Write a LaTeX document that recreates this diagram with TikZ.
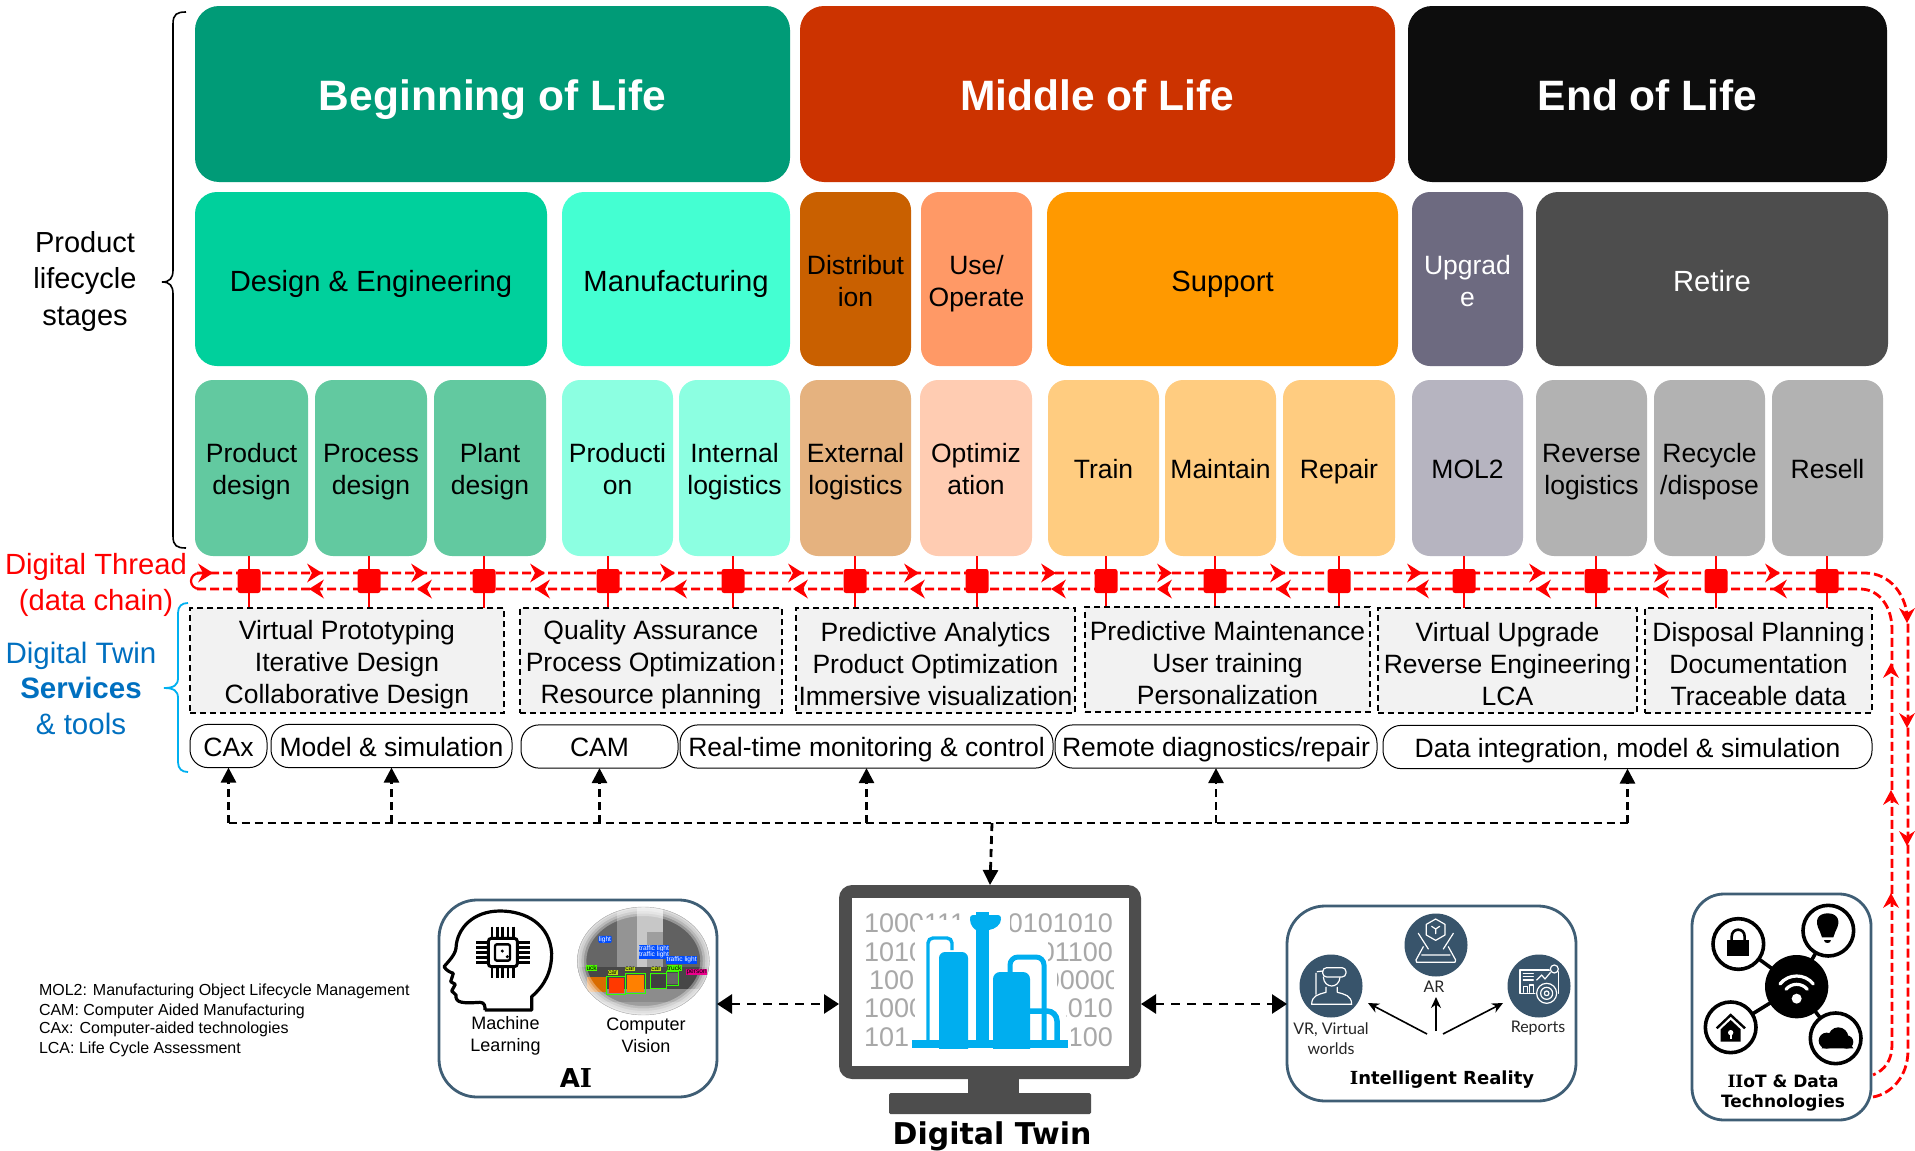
\documentclass[tikz,border=0pt]{standalone}
\usepackage{fontspec}
\setmainfont{Liberation Sans}
\newfontfamily\dvf{DejaVu Sans}
\newfontfamily\dvs{DejaVu Serif}
\newfontfamily\latof{Lato}
\usetikzlibrary{arrows.meta,calc}
\definecolor{bol}{HTML}{009B77}
\definecolor{mol}{HTML}{CC3300}
\definecolor{eol}{HTML}{0D0D0D}
\definecolor{des}{HTML}{00D09C}
\definecolor{mfg}{HTML}{44FFD2}
\definecolor{dsg}{HTML}{62C9A0}
\definecolor{mfl}{HTML}{8CFFE1}
\definecolor{dis}{HTML}{C96000}
\definecolor{use}{HTML}{FF9966}
\definecolor{sup}{HTML}{FF9900}
\definecolor{upg}{HTML}{6D6A80}
\definecolor{ret}{HTML}{4D4D4D}
\definecolor{ext}{HTML}{E5B27F}
\definecolor{opt}{HTML}{FFCCB2}
\definecolor{trn}{HTML}{FFCC80}
\definecolor{mlt}{HTML}{B6B4C0}
\definecolor{gry}{HTML}{B2B2B2}
\definecolor{dtb}{HTML}{0070C0}
\definecolor{brc}{HTML}{00B0F0}
\definecolor{slate}{HTML}{3F5E75}
\definecolor{disc}{HTML}{38546B}
\definecolor{cyanb}{HTML}{00AEEF}
\definecolor{bin}{HTML}{A8A8A8}
\definecolor{scr}{HTML}{4D4D4D}
\newcommand\bx[7]{\pgfmathsetmacro\cxx{(#2+#4)/2}\pgfmathsetmacro\cyy{(#3+#5)/2}\pgfmathsetmacro\ww{#4-#2}\pgfmathsetmacro\hh{#5-#3}\node[#6,minimum width=\ww pt,minimum height=\hh pt] (#1) at (\cxx,\cyy) {#7};}
\newcommand\redR[2]{\fill[red] (#1,#2) -- (#1-15,#2-9.5) -- (#1-10,#2) -- (#1-15,#2+9.5) -- cycle;}
\newcommand\redL[2]{\fill[red] (#1,#2) -- (#1+15,#2-9.5) -- (#1+10,#2) -- (#1+15,#2+9.5) -- cycle;}
\newcommand\redD[2]{\fill[red] (#1,#2) -- (#1-8,#2-15) -- (#1,#2-10) -- (#1+8,#2-15) -- cycle;}
\newcommand\redU[2]{\fill[red] (#1,#2) -- (#1-8,#2+15) -- (#1,#2+10) -- (#1+8,#2+15) -- cycle;}
\newcommand\slabI{{\dvs\bfseries I}}
\newcommand\vst[1]{\rule[-#1em]{0pt}{\dimexpr1.2em+#1em\relax}}
\newcommand\TT{\rule{0pt}{1.22em}}
\newcommand\TS{\rule{0pt}{1.0em}}
\tikzset{
 base/.style={inner sep=0pt,outer sep=0pt,align=center,text=black},
 fix/.style={execute at begin node={\vst{#1}}},
 top/.style={base,rounded corners=24pt,draw=none,text=white,font=\fontsize{42.5}{50}\selectfont\bfseries,fix=.42},
 mid/.style={base,rounded corners=22pt,font=\fontsize{29.2}{35}\selectfont,fix=.34},
 midn/.style={base,rounded corners=18pt,font=\fontsize{26.5}{32}\selectfont,fix=.36},
 low/.style={base,rounded corners=18pt,font=\fontsize{26.5}{32}\selectfont,fix=.42},
 svc/.style={base,fill=black!5,draw=black,line width=1.8pt,dash pattern=on 6pt off 4pt,font=\fontsize{26.5}{32}\selectfont,fix=0},
 pill/.style={base,draw=black,line width=1pt,fill=white,rounded corners=18pt,font=\fontsize{26.5}{32}\selectfont,fix=.43},
 lbl/.style={inner sep=0pt,outer sep=0pt,align=center},
 pane/.style={base,draw=slate,line width=2.8pt,fill=white},
 thr/.style={red,line width=2.8pt,dash pattern=on 9pt off 4pt},
 bus/.style={black,line width=2.8pt,dash pattern=on 8pt off 5pt},
 bush/.style={bus,-{Triangle[length=15pt,width=15pt]}},
 dbl/.style={bus,dash pattern=on 9pt off 7pt,{Triangle[length=15pt,width=19pt]}-{Triangle[length=15pt,width=19pt]}},
 sq/.style={inner sep=0pt,outer sep=0pt,minimum width=23pt,minimum height=24pt,fill=red,rounded corners=2.5pt},
 z/.style={shift={#1},x=.3333pt,y=-.3333pt},
 binr/.style={lbl,text=bin,font=\fontsize{27}{32}\selectfont},
 cvl/.style={inner sep=.5pt,outer sep=0pt,font=\fontsize{6.6}{7}\selectfont},
 ico/.style={white,line width=1.2pt,line join=round,line cap=round},
 small/.style={lbl,font=\fontsize{18}{22}\selectfont},
 irs/.style={lbl,font=\latof\fontsize{16}{20}\selectfont,text=black!85},
 dvh/.style={lbl,font=\dvf\bfseries\fontsize{18}{23}\selectfont},
}
\begin{document}
\begin{tikzpicture}[x=1pt,y=-1pt]
\useasboundingbox (0,0) rectangle (1915,1151);
\fill[white] (0,0) rectangle (1915,1151);
% Top row
\bx{bolb}{195}{6}{790}{182}{top,fill=bol}{Beginning of Life}
\bx{molb}{800}{6}{1395}{182}{top,fill=mol}{Middle of Life}
\bx{eolb}{1408}{6}{1887}{182}{top,fill=eol}{End of Life}
% Second row
\bx{r2a}{195}{192}{547}{366}{mid,fill=des}{Design \& Engineering}
\bx{r2b}{562}{192}{790}{366}{mid,fill=mfg}{Manufacturing}
\bx{r2c}{800}{192}{911}{366}{midn,fill=dis}{\TT Distribut\\ion}
\bx{r2d}{921}{192}{1032}{366}{midn,fill=use}{\TT Use/\\Operate}
\bx{r2e}{1047}{192}{1398}{366}{mid,fill=sup}{Support}
\bx{r2f}{1412}{192}{1523}{366}{midn,fill=upg,text=white}{\TT Upgrad\\e}
\bx{r2g}{1536}{192}{1888}{366}{mid,fill=ret,text=white}{Retire}
% Third row
\bx{r3a}{195}{380}{308}{556}{low,fill=dsg}{\TT Product\\design}
\bx{r3b}{315}{380}{427}{556}{low,fill=dsg}{\TT Process\\design}
\bx{r3c}{434}{380}{546}{556}{low,fill=dsg}{\TT Plant\\design}
\bx{r3d}{562}{380}{673}{556}{low,fill=mfl}{\TT Producti\\on}
\bx{r3e}{679}{380}{790}{556}{low,fill=mfl}{\TT Internal\\logistics}
\bx{r3f}{800}{380}{911}{556}{low,fill=ext}{\TT External\\logistics}
\bx{r3g}{920}{380}{1032}{556}{low,fill=opt}{\TT Optimiz\\ation}
\bx{r3h}{1048}{380}{1159}{556}{low,fill=trn}{Train}
\bx{r3i}{1165}{380}{1276}{556}{low,fill=trn}{Maintain}
\bx{r3j}{1283}{380}{1395}{556}{low,fill=trn}{Repair}
\bx{r3k}{1412}{380}{1523}{556}{low,fill=mlt}{MOL2}
\bx{r3l}{1536}{380}{1647}{556}{low,fill=gry}{\TT Reverse\\logistics}
\bx{r3m}{1654}{380}{1765}{556}{low,fill=gry}{\TT Recycle\\/dispose}
\bx{r3n}{1772}{380}{1883}{556}{low,fill=gry}{Resell}
% Left labels
\node[lbl,font=\fontsize{29}{36.5}\selectfont] (plc) at (85,281) {Product\\lifecycle\\stages};
\draw[black,line width=1.6pt] (186,12) .. controls (177,12) and (173,14) .. (173,24) -- (173,270) .. controls (173,278) and (170,282) .. (162,282) .. controls (170,282) and (173,286) .. (173,294) -- (173,536) .. controls (173,546) and (177,548) .. (186,548);
\node[lbl,text=red,font=\fontsize{29.2}{36}\selectfont] (dth) at (96,584.5) {Digital Thread\\(data chain)};
\node[lbl,text=dtb,font=\fontsize{29.5}{35.5}\selectfont] (dtw) at (81,688) {Digital Twin\\\textbf{Services}\\\& tools};
\draw[brc,line width=1.8pt] (188,603) .. controls (182,603) and (178,606) .. (178,613) -- (178,678) .. controls (178,685) and (174,688) .. (164,688) .. controls (174,688) and (178,691) .. (178,698) -- (178,762) .. controls (178,769) and (182,772) .. (188,772);
% Thread verticals
\foreach \i/\x in {1/249,2/369,3/484,4/608,5/733,6/855,7/977,8/1106,9/1215,10/1339,11/1464,12/1596,13/1716,14/1827}{
 \draw[red,line width=1.6pt] (\x,556) -- (\x,608);
}
% Thread lines
\draw[thr] (197,573) -- (1865,573) .. controls (1890,573) and (1908,595) .. (1908,625) -- (1908,1050) .. controls (1908,1078) and (1890,1094) .. (1873,1097);
\draw[thr] (197,589) -- (1860,589) .. controls (1878,589) and (1892,605) .. (1892,630) -- (1892,1045) .. controls (1892,1060) and (1885,1070) .. (1873,1075);
\draw[red,line width=2.2pt] (200,573) .. controls (188,573) and (188,589) .. (200,589);
\foreach \i/\x in {1/249,2/369,3/484,4/608,5/733,6/855,7/977,8/1106,9/1215,10/1339,11/1464,12/1596,13/1716,14/1827}{
 \node[sq] (s\i) at (\x,581) {};
}
\foreach \x in {213,322,426,545,675,803,919,1056,1172,1285,1422,1544,1669,1780}{\redR{\x}{573}}
\foreach \x in {309,417,535,672,793,910,1051,1157,1276,1414,1536,1654,1772}{\redL{\x}{589}}
\foreach \y in {623,728,846}{\redD{1907}{\y}}
\foreach \y in {663,790,893}{\redU{1891}{\y}}
% Services
\bx{sv1}{190}{608}{504}{713}{svc}{\TS Virtual Prototyping\\Iterative Design\\Collaborative Design}
\bx{sv2}{520}{608}{782}{713}{svc}{\TS Quality Assurance\\Process Optimization\\Resource planning}
\bx{sv3}{796}{608}{1075}{713}{svc}{\TS Predictive Analytics\\Product Optimization\\Immersive visualization}
\bx{sv4}{1085}{607}{1370}{712}{svc}{\TS Predictive Maintenance\\User training\\Personalization}
\bx{sv5}{1378}{608}{1637}{713}{svc}{\TS Virtual Upgrade\\Reverse Engineering\\LCA}
\bx{sv6}{1645}{608}{1872}{713}{svc}{\TS Disposal Planning\\Documentation\\Traceable data}
% Pills
\bx{p1}{190}{727}{267}{765}{pill}{CAx}
\bx{p2}{271}{727}{512}{765}{pill}{Model \& simulation}
\bx{p3}{521}{728}{678}{765}{pill}{CAM}
\bx{p4}{680}{728}{1053}{765}{pill}{Real-time monitoring \& control}
\bx{p5}{1055}{728}{1377}{765}{pill}{Remote diagnostics/repair}
\bx{p6}{1383}{728}{1872}{766}{pill}{Data integration, model \& simulation}
% Bottom panes
\bx{aibox}{439}{900}{717}{1097}{pane,rounded corners=38pt}{}
\bx{irbox}{1287}{906}{1576}{1101}{pane,rounded corners=38pt}{}
\bx{iiot}{1692}{894}{1871}{1120}{pane,rounded corners=32pt}{}
\bx{mon}{839}{885}{1141}{1079}{base,fill=scr,rounded corners=13pt}{}
% Bus
\coordinate (bl) at (228,823);
\coordinate (br) at (1628,823);
\coordinate (bc) at (992,823);
\draw[bus] (p1.south |- bl) -- (br);
\foreach \p in {p1,p2,p3,p4,p5,p6}{
 \draw[bush] (\p.south |- bl) -- (\p.south);
}
\draw[bush] (bc) -- (mon.north);
\draw[dbl] (aibox.east |- 0,1004) -- (mon.west |- 0,1004);
\draw[dbl] (mon.east |- 0,1004) -- (irbox.west |- 0,1004);
% Legend
\foreach \i/\y/\t in {1/991/{MOL2: Manufacturing Object Lifecycle Management},2/1011/{CAM: Computer Aided Manufacturing},3/1029.5/{CAx: Computer-aided technologies},4/1049/{LCA: Life Cycle Assessment}}{
 \node[lbl,anchor=west,font=\fontsize{16}{19}\selectfont] (lg\i) at (39,\y) {\t};
}
% Monitor
\fill[white] (852,898) rectangle (1129,1066);
\fill[scr] (968,1079) rectangle (1019,1094);
\fill[scr,rounded corners=1.5pt] (889,1093) rectangle (1091,1114);
\begin{scope}
 \clip (860,905) -- (964,905) -- (964,919) -- (914,919) -- (914,1050) -- (860,1050) -- cycle;
 \node[binr,anchor=west] (bl1) at (864,923) {1000111};
 \node[binr,anchor=west] (bl2) at (864,952) {1010};
 \node[binr,anchor=west] (bl3) at (869,980) {100};
 \node[binr,anchor=west] (bl4) at (864,1008) {1000};
 \node[binr,anchor=west] (bl5) at (864,1037) {101};
\end{scope}
\begin{scope}
 \clip (1010,905) -- (1113,905) -- (1113,1050) -- (1071,1050) -- (1071,1022) -- (1066,1022) -- (1066,994) -- (1057,994) -- (1057,966) -- (1048,966) -- (1048,938) -- (1010,938) -- cycle;
 \node[binr,anchor=east] (br1) at (1113,923) {0101010};
 \node[binr,anchor=east] (br2) at (1113,952) {01100};
 \node[binr,anchor=east] (br3) at (1120,980) {000000};
 \node[binr,anchor=east] (br4) at (1113,1008) {1010};
 \node[binr,anchor=east] (br5) at (1113,1037) {100};
\end{scope}
% Blue plant
\fill[cyanb] (912,1040) rectangle (1068,1048);
\fill[cyanb] (976,912) rectangle (989,1040);
\fill[cyanb,rounded corners=3pt] (970,915) rectangle (1001,921);
\fill[cyanb] (970,919) -- (1001,919) .. controls (1001,925) and (995,929) .. (989,930) -- (976,930) .. controls (974,929) and (970,925) .. (970,919) -- cycle;
\fill[cyanb,rounded corners=6pt] (939,952) rectangle (968,1060);
\fill[cyanb,rounded corners=7pt] (993,972) rectangle (1030,1060);
\fill[white] (930,1048.5) rectangle (1070,1062);
\draw[cyanb,line width=3.4pt,rounded corners=5pt] (928,1040) -- (928,938) -- (952,938) -- (952,950);
\draw[cyanb,line width=5pt,rounded corners=8pt] (1010,972) -- (1010,957) -- (1044,957) -- (1044,1040);
\draw[cyanb,line width=5.5pt,rounded corners=10pt] (1030,1011) -- (1057,1011) -- (1057,1040);
\node[lbl,font=\dvf\bfseries\fontsize{30}{36}\selectfont] (dtl) at (992,1136) {Digital Twin};
% AI pane
\begin{scope}[z={(430,895)}]
 \draw[black,line width=3.2pt,line join=round] (165,345) -- (305,345) -- (305,305) .. controls (345,270) and (365,230) .. (365,175) .. controls (360,90) and (290,48) .. (210,48) .. controls (130,48) and (80,100) .. (78,160) .. controls (75,180) and (55,200) .. (42,215) .. controls (50,228) and (62,232) .. (70,235) -- (62,260) -- (76,268) -- (65,288) -- (78,300) .. controls (75,325) and (100,325) .. (150,322) .. controls (165,322) and (165,335) .. (165,345);
 \draw[black,line width=3pt,rounded corners=3pt] (175,130) rectangle (262,215);
 \draw[black,line width=2.4pt,rounded corners=2pt] (195,148) rectangle (240,197);
 \fill[black] (217,168) circle[radius=5];
 \fill[black] (232,185) circle[radius=5];
 \foreach \u in {186,202,218,234,250}{\draw[black,line width=2.6pt] (\u,95) -- (\u,128); \draw[black,line width=2.6pt] (\u,217) -- (\u,250);}
 \foreach \v in {143,158,173,188,203}{\draw[black,line width=2.6pt] (138,\v) -- (173,\v); \draw[black,line width=2.6pt] (264,\v) -- (300,\v);}
 % computer-vision picture
 \begin{scope}
  \clip (640,198) ellipse [x radius=198,y radius=162];
  \fill[black!22] (440,30) rectangle (840,360);
  \fill[black!60] (440,30) rectangle (560,230);
  \fill[black!42] (560,30) rectangle (620,230);
  \fill[black!62] (700,30) rectangle (840,230);
  \fill[black!38] (650,110) rectangle (700,220);
  \fill[black!38] (440,300) rectangle (840,360);
  \fill[black!72] (440,215) rectangle (840,290);
  \fill[black!45!white] (440,282) -- (840,282) -- (840,320) -- (440,320) -- cycle;
  \fill[orange!85!black] (470,245) rectangle (530,292);
  \fill[red!55!orange] (538,250) rectangle (582,295);
  \fill[orange] (590,240) rectangle (642,292);
  \fill[black!75] (662,240) rectangle (708,278);
  \fill[black!60] (712,235) rectangle (745,268);
  \foreach \w in {3,8,13,18}{\draw[white,opacity=.33,line width=\w pt] (640,198) ellipse [x radius=198,y radius=162];}
 \end{scope}
 \draw[black!30,line width=.4pt] (640,198) ellipse [x radius=198,y radius=162];
 \draw[green!80!yellow,line width=.8pt] (530,245) rectangle (585,298) (585,236) rectangle (645,295) (660,236) rectangle (710,280) (710,230) rectangle (745,270);
 \node[cvl,fill=blue!70!cyan,text=white,rounded corners=1pt] (cv1) at (525,133) {light};
 \node[cvl,fill=blue!70!cyan,text=white] (cv2) at (672,160) {traffic light};
 \node[cvl,fill=blue!70!cyan,text=white] (cv3) at (672,180) {traffic light};
 \node[cvl,fill=blue!70!cyan,text=white] (cv4) at (755,195) {traffic light};
 \node[cvl,fill=green!70!yellow] (cv5) at (485,218) {uck};
 \node[cvl,fill=yellow!75!green] (cv6) at (548,232) {car};
 \node[cvl,fill=yellow!75!green] (cv7) at (600,222) {car};
 \node[cvl,fill=yellow!75!green] (cv8) at (678,222) {car};
 \node[cvl,fill=green!70!yellow] (cv9) at (733,218) {truck};
 \node[cvl,fill=magenta,text=black] (cv10) at (800,232) {person};
\end{scope}
\node[small] (ml) at (505.5,1035.5) {Machine\\Learning};
\node[small] (cvt) at (646,1035.5) {Computer\\Vision};
\node[lbl,font=\dvf\bfseries\fontsize{26}{30}\selectfont] (ail) at (576,1078) {A\slabI};
% Intelligent Reality pane
\foreach \i/\x/\y in {1/1331/986,2/1436/945,3/1539/986}{\fill[disc] (\x,\y) circle[radius=31.5];}
\begin{scope}[z={(1290,905)}]
 % AR icon
 \draw[ico] (437,42) -- (465,58) -- (465,90) -- (437,106) -- (409,90) -- (409,58) -- cycle;
 \draw[ico] (437,72) -- (425,64) (437,72) -- (449,64) (437,72) -- (437,86);
 \draw[ico] (385,85) -- (415,132) (490,85) -- (460,132);
 \draw[ico] (400,125) -- (378,165) -- (380,172) -- (495,172) -- (497,165) -- (475,125) (395,150) -- (480,150);
 % VR icon
 \draw[ico] (78,205) -- (78,268) (100,216) .. controls (102,252) and (148,252) .. (150,216);
 \draw[ico] (108,247) -- (108,262) .. controls (85,268) and (65,272) .. (65,298) -- (185,298) .. controls (185,272) and (165,268) .. (142,262) -- (142,247);
 \draw[ico,fill=disc,rounded corners=4pt] (98,188) rectangle (168,216);
 \draw[ico] (82,200) -- (98,198);
 % Reports icon
 \draw[ico] (690,195) rectangle (805,265);
 \draw[ico] (700,205) -- (730,205) (700,215) -- (730,215) (700,225) -- (730,225);
 \draw[ico] (700,262) -- (700,245) -- (712,245) -- (712,262) (718,262) -- (718,240) -- (730,240) -- (730,262);
 \draw[ico] (740,225) -- (755,210) -- (765,222) -- (785,198);
 \fill[disc] (793,192) circle[radius=15];
 \draw[ico] (793,192) circle[radius=12];
 \fill[disc] (770,265) circle[radius=34];
 \draw[ico] (770,265) circle[radius=30];
 \draw[ico] (770,265) circle[radius=18];
 \draw[ico] (770,265) circle[radius=7];
\end{scope}
\node[irs] (irv) at (1331,1039) {VR, Virtual\\worlds};
\node[irs] (ira) at (1434,987) {AR};
\node[irs] (irr) at (1538,1028) {Reports};
\coordinate (ia) at (1427,1034);
\coordinate (ib) at (1436,1031);
\coordinate (ic) at (1443,1034);
\coordinate (ta) at (1368,1003);
\coordinate (tb) at (1436,997);
\coordinate (tc) at (1503,1003);
\draw[black,line width=1.6pt,-{Stealth[length=11pt,width=10pt]}] (ia) -- (ta);
\draw[black,line width=1.6pt,-{Stealth[length=11pt,width=10pt]}] (ib) -- (tb);
\draw[black,line width=1.6pt,-{Stealth[length=11pt,width=10pt]}] (ic) -- (tc);
\node[dvh] (irl) at (1442,1080) {\slabI ntelligent Reality};
% IIoT pane
\begin{scope}[z={(1690,890)}]
 \draw[black,line width=3.6pt] (320,290) -- (145,162) (320,290) -- (415,122) (320,290) -- (122,412) (320,290) -- (437,445);
 \fill[black] (320,290) circle[radius=95];
 \foreach \u/\v in {145/162,415/122,122/412,437/445}{\draw[black,line width=3.6pt,fill=white] (\u,\v) circle[radius=76];}
 % wifi
 \draw[white,line width=3.2pt,line cap=round] (288,298) .. controls (305,278) and (335,278) .. (352,298);
 \draw[white,line width=3.2pt,line cap=round] (270,282) .. controls (295,250) and (345,250) .. (370,282);
 \fill[white] (320,326) circle[radius=15];
 % lock
 \fill[black] (112,150) rectangle (177,197);
 \draw[black,line width=2.6pt] (125,150) -- (125,140) .. controls (125,112) and (164,112) .. (164,140) -- (164,150);
 % bulb
 \fill[black] (390,125) .. controls (370,90) and (385,70) .. (413,70) .. controls (441,70) and (456,90) .. (436,125) -- (430,142) -- (396,142) -- cycle;
 \fill[black] (402,150) -- (424,150) .. controls (424,162) and (402,162) .. (402,150) -- cycle;
 % home
 \draw[black,line width=2.4pt] (80,415) -- (122,375) -- (165,415);
 \fill[black] (122,390) -- (152,418) -- (152,455) -- (92,455) -- (92,418) -- cycle;
 \fill[white] (122,428) circle[radius=8];
 \fill[white] (119,430) rectangle (125,446);
 % cloud
 \fill[black] (410,452) circle[radius=24];
 \fill[black] (445,442) circle[radius=30];
 \fill[black] (470,456) circle[radius=20];
 \fill[black] (395,475) -- (402,460) -- (480,460) -- (490,475) -- cycle;
\end{scope}
\node[dvh,font=\dvf\bfseries\fontsize{17}{19.5}\selectfont] (iil) at (1783,1093) {\slabI\slabI oT \& Data\\Technologies};
\end{tikzpicture}
\end{document}
